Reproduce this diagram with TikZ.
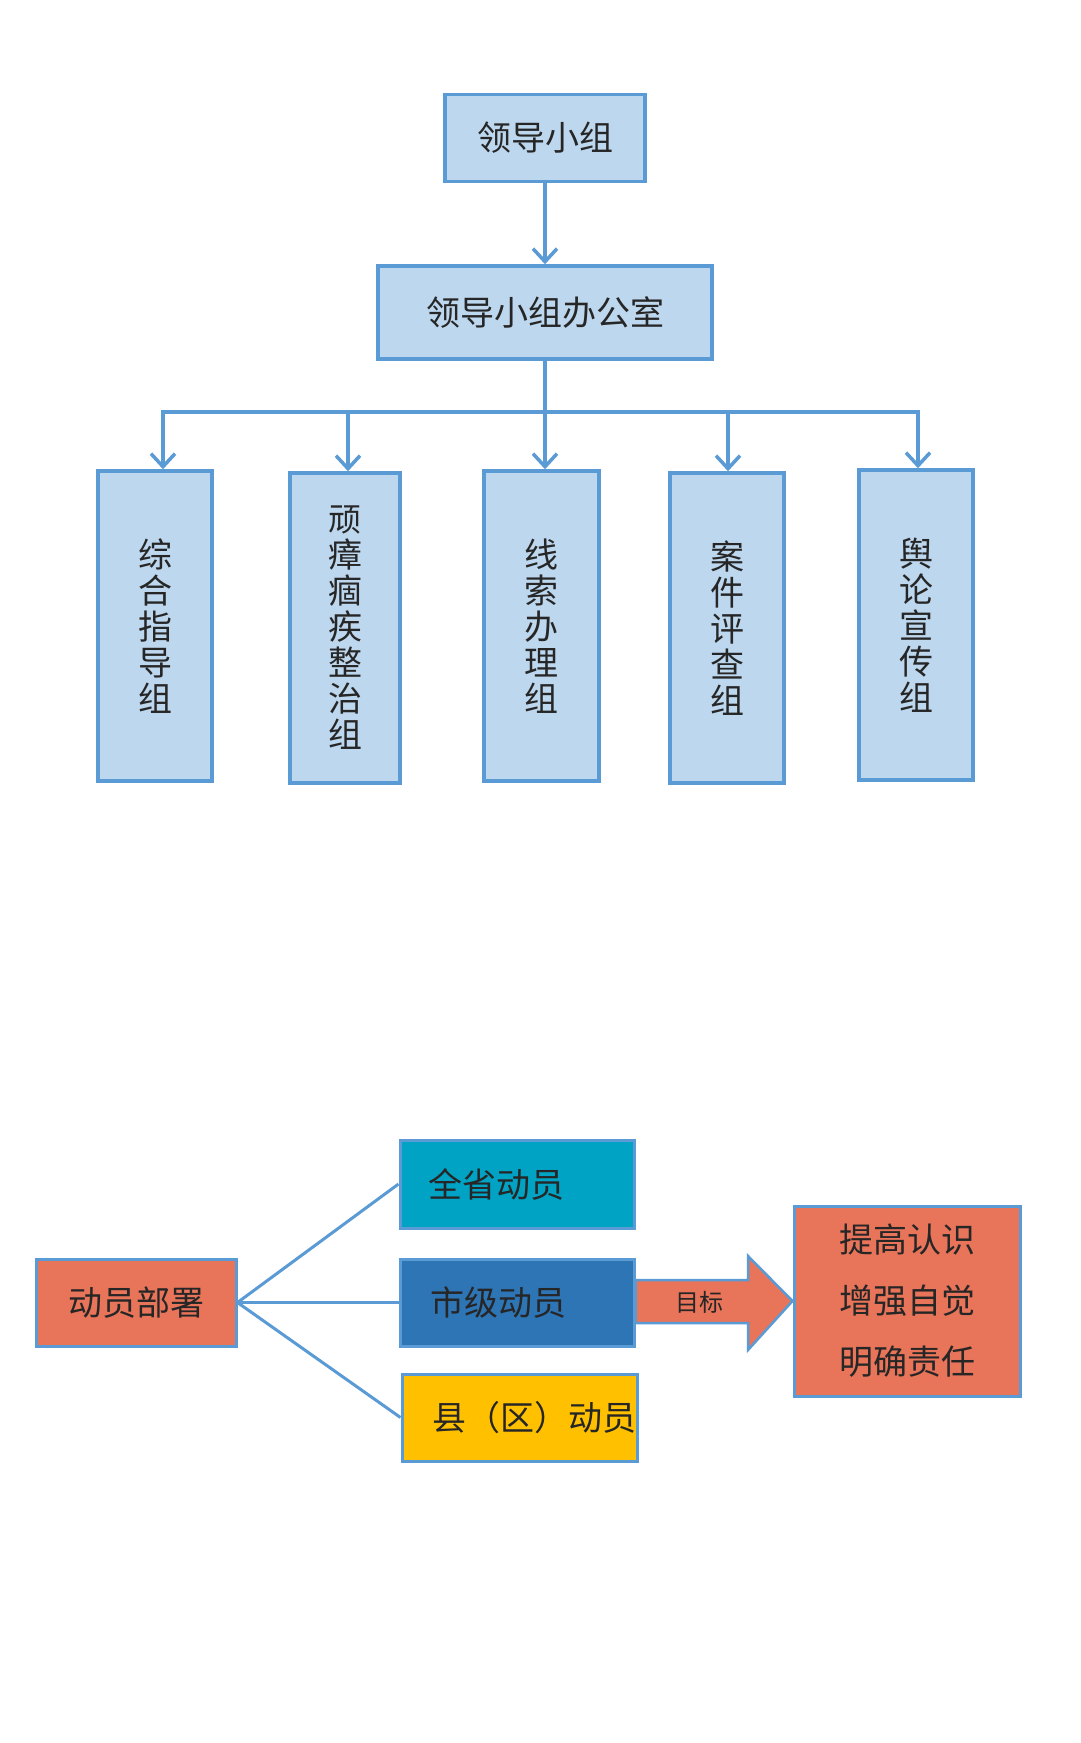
\documentclass[tikz,border=0pt]{standalone}
\usepackage{fontspec}
\setmainfont{Noto Sans CJK SC}
\usetikzlibrary{arrows.meta}
\definecolor{lb}{HTML}{BDD7EE}
\definecolor{bd}{HTML}{5B9BD5}
\definecolor{org}{HTML}{E8745A}
\definecolor{teal}{HTML}{00A3C4}
\definecolor{dblue}{HTML}{2E75B6}
\definecolor{yel}{HTML}{FFC000}
\tikzset{
  orgbox/.style={rectangle, draw=bd, line width=3.5pt, fill=lb, inner sep=0pt,
     font=\fontsize{34}{36}\selectfont, text=black!85},
  vbox/.style={orgbox, minimum width=110pt, minimum height=310pt, align=center},
  mbox/.style={rectangle, draw=bd, line width=3pt, inner sep=0pt,
     font=\fontsize{34}{36}\selectfont, text=black!85},
  mtext/.style={font=\fontsize{34}{36}\selectfont, text=black!85, anchor=west, inner sep=0pt},
  conn/.style={draw=bd, line width=3.5pt},
  arr/.style={conn, -{Straight Barb[length=13pt,width=24pt,line width=3.5pt]}},
}
\begin{document}
\begin{tikzpicture}[x=1pt,y=-1pt]
\useasboundingbox[fill=white] (0,0) rectangle (1080,1743);
% top
\node[orgbox, minimum width=200pt, minimum height=87pt] (lead) at (545,138) {领导小组};
\node[orgbox, minimum width=334pt, minimum height=93pt] (office) at (545,312.5) {领导小组办公室};
\draw[arr] (lead.south) -- (office.north);
\node[vbox, minimum width=114pt] (g1) at (155,626) {\fontsize{34}{37}\selectfont 综\\合\\指\\导\\组};
\node[vbox] (g2) at (345,628) {\fontsize{33}{35}\selectfont 顽\\瘴\\痼\\疾\\整\\治\\组};
\node[vbox, minimum width=115pt] (g3) at (541.5,626) {\fontsize{34}{37}\selectfont 线\\索\\办\\理\\组};
\node[vbox, minimum width=114pt] (g4) at (727,628) {\fontsize{34}{37}\selectfont 案\\件\\评\\查\\组};
\node[vbox, minimum width=114pt] (g5) at (916,625) {\fontsize{34}{37}\selectfont 舆\\论\\宣\\传\\组};
\coordinate (bus) at (545,412);
\coordinate (b1) at (163,412);
\coordinate (b2) at (348,412);
\coordinate (b4) at (728,412);
\coordinate (b5) at (918,412);
\draw[conn] (office.south) -- (bus);
\draw[conn, line cap=rect] (b1) -- (b5);
\draw[arr] (b1) -- (b1 |- g1.north);
\draw[arr] (b2) -- (b2 |- g2.north);
\draw[arr] (bus) -- (bus |- g3.north);
\draw[arr] (b4) -- (b4 |- g4.north);
\draw[arr] (b5) -- (b5 |- g5.north);
% bottom
\node[mbox, fill=org, minimum width=200pt, minimum height=87pt] (dep) at (136,1302.5) {动员部署};
\node[mbox, fill=teal, minimum width=234pt, minimum height=88pt] (prov) at (517,1184) {};
\node[mtext] (provt) at (428,1184) {全省动员};
\node[mbox, fill=dblue, minimum width=234pt, minimum height=87pt] (city) at (517,1302.5) {};
\node[mtext] (cityt) at (430,1302.5) {市级动员};
\node[mbox, fill=yel, minimum width=235pt, minimum height=87pt] (cnty) at (519.5,1417.5) {};
\node[mtext] (cntyt) at (432,1417.5) {县（区）动员};
\draw[conn, line width=3pt] (dep.east) -- (prov.west);
\draw[conn, line width=3pt] (dep.east) -- (city.west);
\draw[conn, line width=3pt] (dep.east) -- (cnty.west);
\node[mbox, fill=org, minimum width=226pt, minimum height=190pt, align=center,
  font=\fontsize{34}{61}\selectfont] (goalbox) at (907,1301) {提高认识\\增强自觉\\明确责任};
\draw[draw=bd, line width=2.5pt, fill=org, line join=miter]
  (city.east |- 0,1280) -- (748,1280) -- (748,1256) -- (goalbox.west) -- (748,1350) -- (748,1323) -- (city.east |- 0,1323) -- cycle;
\node[font=\fontsize{24}{26}\selectfont, text=black!85, inner sep=0pt] (goal) at (699,1302) {目标};
\end{tikzpicture}
\end{document}
